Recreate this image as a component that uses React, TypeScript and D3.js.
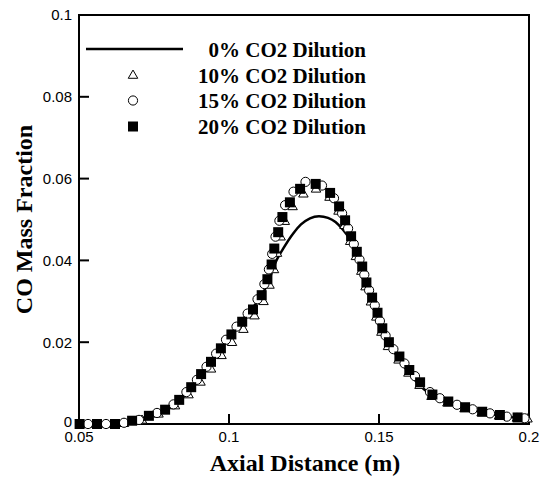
import React from "react";
import * as d3 from "d3";

const W = 543;
const H = 479;

const xTicks = [0.05, 0.1, 0.15, 0.2];
const yTicks = [0, 0.02, 0.04, 0.06, 0.08, 0.1];
const xTickLabels = ["0.05", "0.1", "0.15", "0.2"];
const yTickLabels = ["0", "0.02", "0.04", "0.06", "0.08", "0.1"];

const legendLabels = ["0% CO2 Dilution", "10% CO2 Dilution", "15% CO2 Dilution", "20% CO2 Dilution"];

// 0% CO2 dilution (solid line)
const line0: [number, number][] = [
  [0.05, 0.0], [0.06, 0.0002], [0.07, 0.0012], [0.08, 0.0042], [0.085, 0.0068],
  [0.09, 0.011], [0.095, 0.016], [0.1, 0.0212], [0.105, 0.026], [0.11, 0.0305],
  [0.113, 0.0345], [0.1155, 0.0395], [0.118, 0.0428], [0.1214, 0.0466], [0.124, 0.0488],
  [0.127, 0.0503], [0.13, 0.0508], [0.133, 0.0504], [0.1355, 0.0494], [0.138, 0.0475],
  [0.14, 0.0455], [0.1425, 0.042], [0.145, 0.037], [0.148, 0.031], [0.151, 0.0245],
  [0.154, 0.019], [0.157, 0.0155], [0.16, 0.0125], [0.165, 0.0085], [0.17, 0.006],
  [0.175, 0.0047], [0.18, 0.0036], [0.185, 0.0028], [0.19, 0.0021], [0.195, 0.0016],
  [0.2, 0.0013],
];

// 10% CO2 dilution (triangles)
const tri10: [number, number][] = [
  [0.053, 0.0], [0.059, 0.0], [0.065, 0.0002], [0.071, 0.001], [0.0765, 0.0025],
  [0.082, 0.0045], [0.0865, 0.0072], [0.0905, 0.0103], [0.094, 0.0135], [0.0975, 0.0168],
  [0.101, 0.02], [0.1048, 0.0232], [0.1085, 0.0265], [0.1115, 0.03], [0.1135, 0.034],
  [0.115, 0.0378], [0.116, 0.0418], [0.1172, 0.0458], [0.1186, 0.0496], [0.1212, 0.0532],
  [0.1248, 0.0563], [0.129, 0.0575], [0.1335, 0.0555], [0.1365, 0.0521], [0.1385, 0.0486],
  [0.1404, 0.0447], [0.1423, 0.041], [0.1441, 0.0374], [0.1455, 0.0336], [0.1473, 0.0299],
  [0.1491, 0.0262], [0.1508, 0.0225], [0.153, 0.019], [0.1565, 0.0157], [0.1598, 0.0125],
  [0.1635, 0.0095], [0.1675, 0.0068], [0.1728, 0.0052], [0.1785, 0.0038], [0.1842, 0.0028],
  [0.19, 0.002], [0.196, 0.0015], [0.1995, 0.0013],
];

// 15% CO2 dilution (circles)
const cir15: [number, number][] = [
  [0.053, 0.0], [0.059, 0.0], [0.065, 0.0003], [0.07, 0.001], [0.076, 0.0027],
  [0.0815, 0.0048], [0.0858, 0.0078], [0.0893, 0.0108], [0.0925, 0.014], [0.0957, 0.0172],
  [0.099, 0.0206], [0.1025, 0.0238], [0.1062, 0.027], [0.1095, 0.0305], [0.1118, 0.0342],
  [0.1133, 0.0378], [0.1144, 0.0416], [0.1155, 0.0458], [0.1168, 0.0497], [0.1187, 0.0535],
  [0.1215, 0.0568], [0.1255, 0.0592], [0.131, 0.0583], [0.135, 0.0552], [0.1377, 0.0515],
  [0.1397, 0.0478], [0.1416, 0.044], [0.1435, 0.0402], [0.1451, 0.0365], [0.1467, 0.0327],
  [0.1486, 0.029], [0.1503, 0.0252], [0.1522, 0.0216], [0.1548, 0.0183], [0.1585, 0.0148],
  [0.162, 0.0117], [0.167, 0.0078], [0.1703, 0.0063], [0.176, 0.0047], [0.1812, 0.0036],
  [0.187, 0.0026], [0.1926, 0.0018], [0.1985, 0.0014],
];

// 20% CO2 dilution (filled squares)
const sq20: [number, number][] = [
  [0.0502, 0.0], [0.056, 0.0], [0.062, 0.0], [0.0677, 0.0008], [0.0733, 0.002],
  [0.0787, 0.0035], [0.0834, 0.0059], [0.0874, 0.009], [0.0907, 0.0122], [0.094, 0.0152],
  [0.0973, 0.0185], [0.1008, 0.0219], [0.1044, 0.025], [0.108, 0.028], [0.1109, 0.0315],
  [0.1128, 0.0354], [0.1142, 0.039], [0.1151, 0.0429], [0.1164, 0.0469], [0.1178, 0.0506],
  [0.1203, 0.0542], [0.1237, 0.0575], [0.1289, 0.0587], [0.1337, 0.0565], [0.1367, 0.0532],
  [0.1387, 0.0498], [0.1407, 0.0459], [0.1426, 0.0421], [0.1444, 0.0385], [0.1458, 0.0346],
  [0.1477, 0.0309], [0.1495, 0.0272], [0.1511, 0.0234], [0.1533, 0.02], [0.1568, 0.0165],
  [0.1601, 0.0132], [0.1637, 0.0102], [0.1678, 0.0072], [0.1731, 0.0055], [0.1787, 0.0041],
  [0.1844, 0.003], [0.1903, 0.0022], [0.1962, 0.0016],
];

const L = 79, R = 529, T = 15, B = 424;

export default function App() {
  const x = d3.scaleLinear().domain([0.05, 0.2]).range([L, R]);
  const y = d3.scaleLinear().domain([0, 0.1]).range([B, T]);
  const lineGen = d3
    .line<[number, number]>()
    .x((d) => x(d[0]))
    .y((d) => y(d[1]))
    .curve(d3.curveMonotoneX);

  const triPath = (cx: number, cy: number, s = 9.5) => {
    const h = s * 0.866;
    return `M${cx},${cy - h * 0.6}L${cx + s / 2},${cy + h * 0.4}L${cx - s / 2},${cy + h * 0.4}Z`;
  };

  const sans = "'Liberation Sans', Arial, sans-serif";
  const serif = "'Liberation Serif', 'Times New Roman', serif";

  return (
    <svg
      width={W}
      height={H}
      style={{ position: "absolute", left: 0, top: 0, background: "#fff" }}
    >
      <rect x={0} y={0} width={W} height={H} fill="#fff" />
      {/* frame */}
      <rect x={L} y={T} width={R - L} height={B - T} fill="none" stroke="#000" strokeWidth={2} />
      {/* y ticks */}
      {yTicks.map((t, i) => (
        <g key={"yt" + i}>
          {t > 0 && <line x1={L} x2={L + 10} y1={y(t)} y2={y(t)} stroke="#000" strokeWidth={2} />}
          <text
            x={72}
            y={y(t) - (t === 0 ? 2 : 0)}
            dy="0.36em"
            textAnchor="end"
            fontFamily={sans}
            fontSize={15}
            fill="#000"
          >
            {yTickLabels[i]}
          </text>
        </g>
      ))}
      {/* x ticks */}
      {xTicks.map((t, i) => (
        <g key={"xt" + i}>
          {t > 0.05 && t < 0.2 && (
            <line x1={x(t)} x2={x(t)} y1={B} y2={B - 10} stroke="#000" strokeWidth={2} />
          )}
          <text
            x={x(t)}
            y={442}
            textAnchor="middle"
            fontFamily={sans}
            fontSize={15}
            fill="#000"
          >
            {xTickLabels[i]}
          </text>
        </g>
      ))}
      {/* data */}
      <path d={lineGen(line0) || ""} fill="none" stroke="#000" strokeWidth={2.5} />
      {tri10.map((d, i) => (
        <path key={"tr" + i} d={triPath(x(d[0]), y(d[1]))} fill="#fff" stroke="#000" strokeWidth={1} />
      ))}
      {cir15.map((d, i) => (
        <circle key={"ci" + i} cx={x(d[0])} cy={y(d[1])} r={4.6} fill="#fff" stroke="#000" strokeWidth={1} />
      ))}
      {sq20.map((d, i) => (
        <rect key={"sq" + i} x={x(d[0]) - 5} y={y(d[1]) - 5} width={10} height={10} fill="#000" />
      ))}
      {/* legend */}
      <line x1={86} x2={183} y1={49} y2={49} stroke="#000" strokeWidth={2.5} />
      <path d={triPath(133, 75)} fill="#fff" stroke="#000" strokeWidth={1} />
      <circle cx={133} cy={100.5} r={4.6} fill="#fff" stroke="#000" strokeWidth={1} />
      <rect x={128} y={121.5} width={10} height={10} fill="#000" />
      {legendLabels.map((s, i) => (
        <text
          key={"lg" + i}
          x={366}
          y={[50, 75.5, 101, 126.5][i]}
          dy="0.35em"
          textAnchor="end"
          fontFamily={serif}
          fontWeight="bold"
          fontSize={21}
          fill="#000"
        >
          {s}
        </text>
      ))}
      {/* axis titles */}
      <text
        x={305}
        y={471}
        textAnchor="middle"
        fontFamily={serif}
        fontWeight="bold"
        fontSize={24}
        fill="#000"
      >
        Axial Distance (m)
      </text>
      <text
        transform={`translate(32,${(T + B) / 2}) rotate(-90)`}
        textAnchor="middle"
        fontFamily={serif}
        fontWeight="bold"
        fontSize={24}
        fill="#000"
      >
        CO Mass Fraction
      </text>
    </svg>
  );
}
